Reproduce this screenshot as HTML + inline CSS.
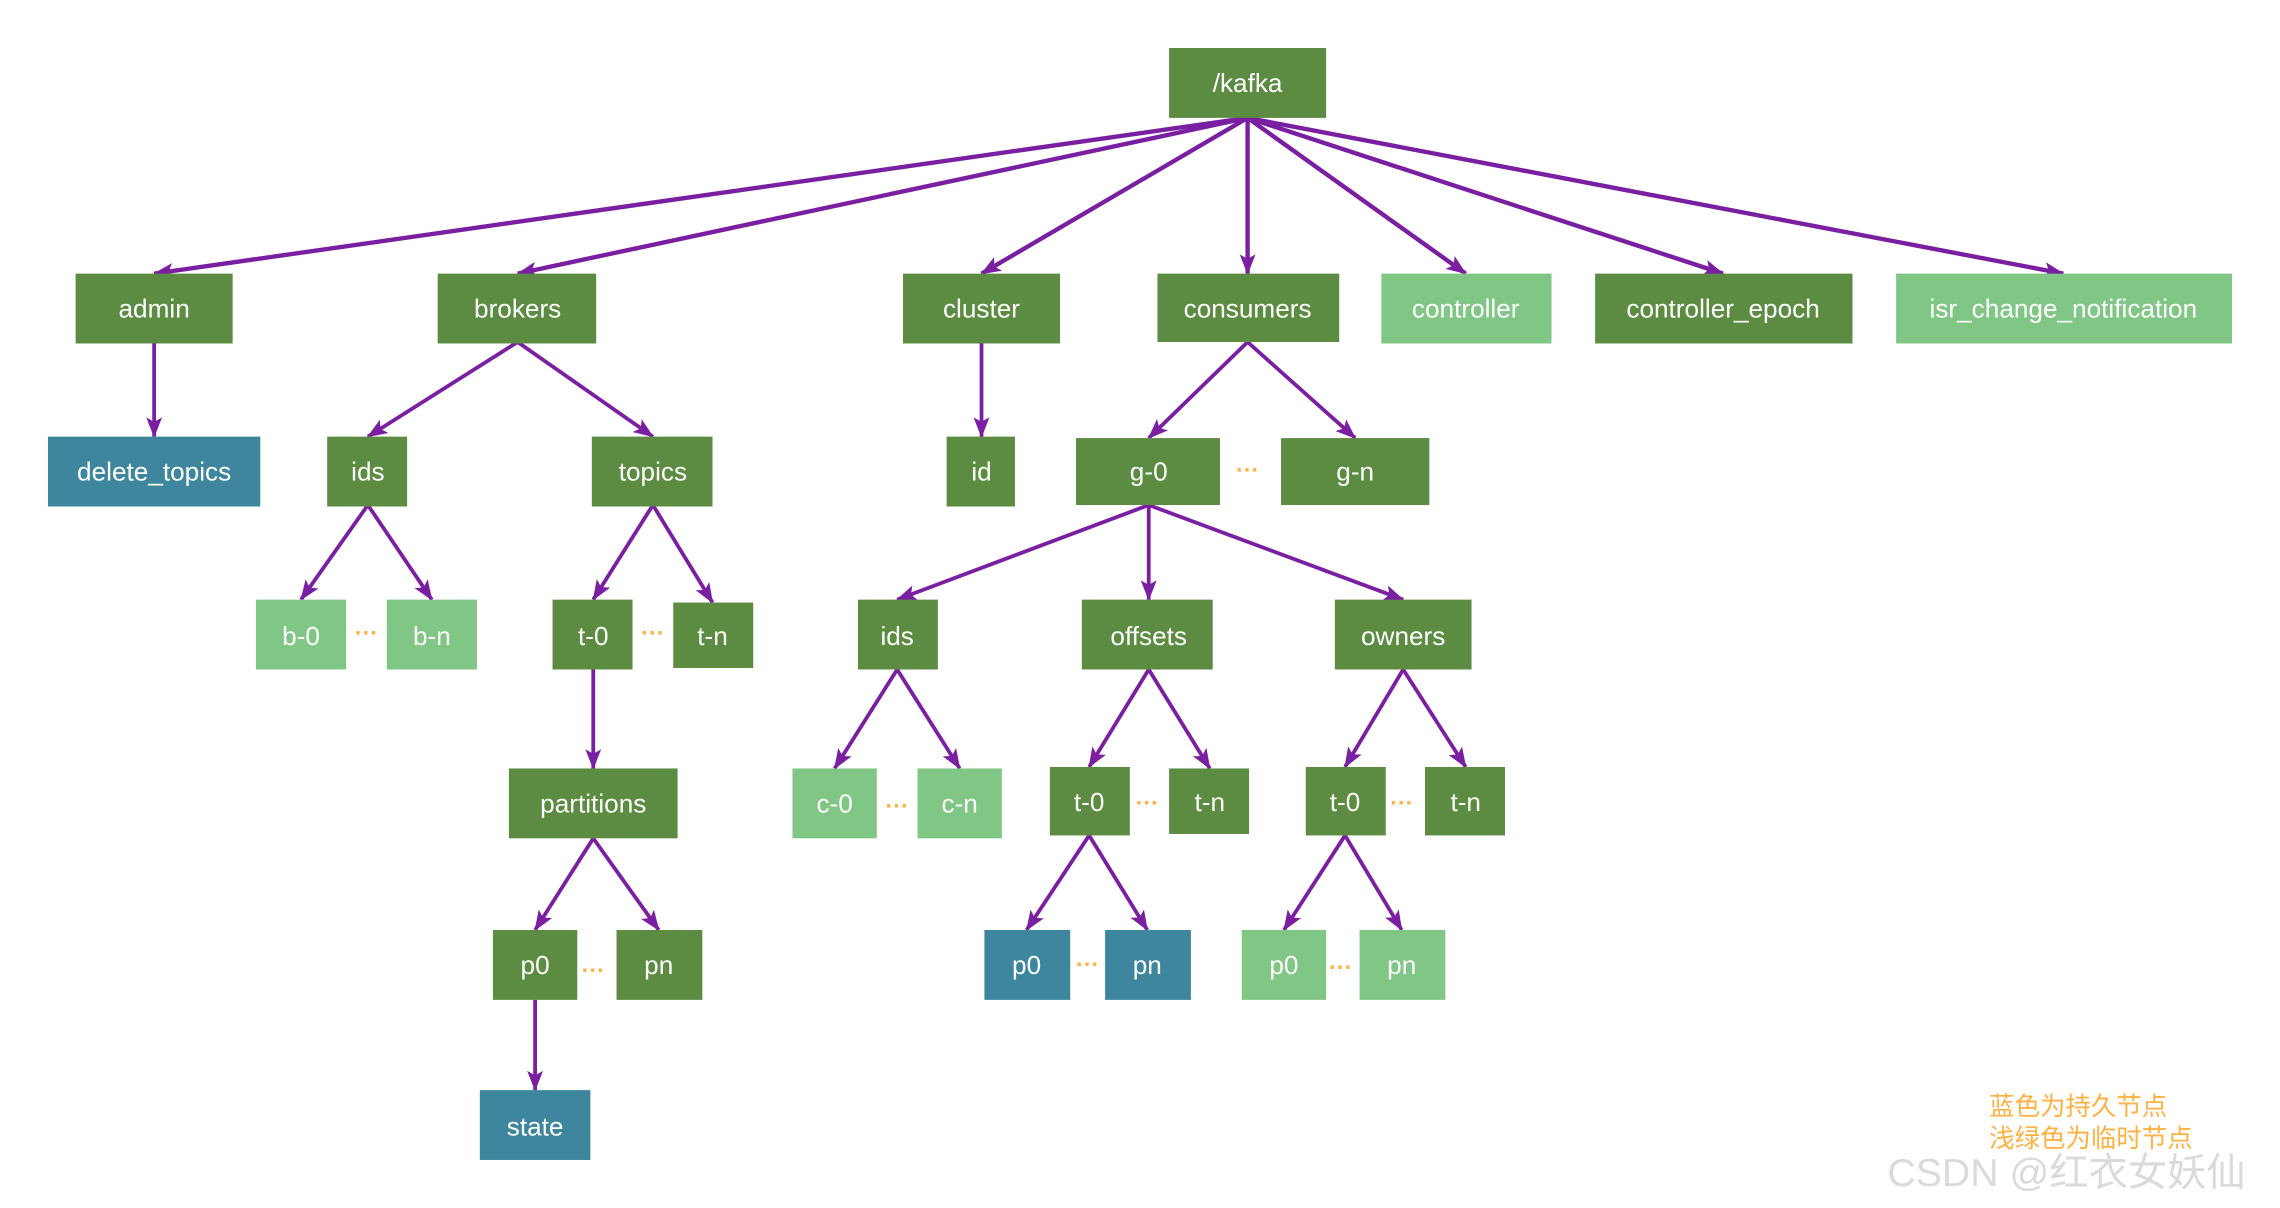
<!DOCTYPE html>
<html><head><meta charset="utf-8"><style>
html,body{margin:0;padding:0;background:#fff;width:2280px;height:1208px;overflow:hidden}
svg{display:block}
text{font-family:"Liberation Sans","Noto Sans CJK SC",sans-serif}
.n text{fill:#fff;font-size:18px;text-anchor:middle;dominant-baseline:central}
.d{fill:#5b8c42}.l{fill:#80c684}.b{fill:#3d869e}
.e line{stroke:#7b1fa2;stroke-width:2.6;marker-end:url(#a)}
.dots{fill:#ffb142;font-size:16px;font-weight:bold;text-anchor:middle}
</style></head><body>
<svg width="2280" height="1208" viewBox="0 0 1568 830" preserveAspectRatio="none" xmlns="http://www.w3.org/2000/svg">
<defs><marker id="a" markerUnits="userSpaceOnUse" markerWidth="16" markerHeight="18" refX="8" refY="17" orient="auto-start-reverse" viewBox="0 0 16 18"><path d="M0,0 L8,17 L16,0 L8,4 Z" fill="#7b1fa2" transform="rotate(0)"/></marker>
<marker id="m" markerUnits="userSpaceOnUse" markerWidth="14" markerHeight="18" refX="17" refY="7" orient="auto" viewBox="0 0 18 14"><path d="M0,0 L18,7 L0,14 L4,7 Z" fill="#7b1fa2"/></marker></defs>
<style>.e line{marker-end:url(#m)}</style>
<g class="e">
<line x1="858" y1="81" x2="106" y2="188" style="stroke-width:3"/>
<line x1="858" y1="81" x2="356" y2="188" style="stroke-width:3"/>
<line x1="858" y1="81" x2="675" y2="188" style="stroke-width:3"/>
<line x1="858" y1="81" x2="858" y2="188" style="stroke-width:3"/>
<line x1="858" y1="81" x2="1008" y2="188" style="stroke-width:3"/>
<line x1="858" y1="81" x2="1185" y2="188" style="stroke-width:3"/>
<line x1="858" y1="81" x2="1419" y2="188" style="stroke-width:3"/>
<line x1="106" y1="235" x2="106" y2="300"/>
<line x1="356" y1="235" x2="253" y2="300"/>
<line x1="356" y1="235" x2="449" y2="300"/>
<line x1="675" y1="235" x2="675" y2="300"/>
<line x1="858" y1="235" x2="790" y2="301"/>
<line x1="858" y1="235" x2="932" y2="301"/>
<line x1="253" y1="347" x2="207" y2="412"/>
<line x1="253" y1="347" x2="297" y2="412"/>
<line x1="449" y1="347" x2="408" y2="412"/>
<line x1="449" y1="347" x2="490" y2="414"/>
<line x1="790" y1="347" x2="617" y2="412"/>
<line x1="790" y1="347" x2="790" y2="412"/>
<line x1="790" y1="347" x2="965" y2="412"/>
<line x1="408" y1="460" x2="408" y2="528"/>
<line x1="617" y1="460" x2="574" y2="528"/>
<line x1="617" y1="460" x2="660" y2="528"/>
<line x1="790" y1="460" x2="749" y2="527"/>
<line x1="790" y1="460" x2="832" y2="528"/>
<line x1="965" y1="460" x2="925" y2="527"/>
<line x1="965" y1="460" x2="1008" y2="527"/>
<line x1="408" y1="576" x2="368" y2="639"/>
<line x1="408" y1="576" x2="453" y2="639"/>
<line x1="368" y1="687" x2="368" y2="749"/>
<line x1="749" y1="574" x2="706" y2="639"/>
<line x1="749" y1="574" x2="789" y2="639"/>
<line x1="925" y1="574" x2="883" y2="639"/>
<line x1="925" y1="574" x2="964" y2="639"/>
</g>
<g class="n">
<rect class="d" x="804" y="33" width="108" height="48"/><text x="858" y="57">/kafka</text>
<rect class="d" x="52" y="188" width="108" height="48"/><text x="106" y="212">admin</text>
<rect class="d" x="301" y="188" width="109" height="48"/><text x="356" y="212">brokers</text>
<rect class="d" x="621" y="188" width="108" height="48"/><text x="675" y="212">cluster</text>
<rect class="d" x="796" y="188" width="125" height="47"/><text x="858" y="212">consumers</text>
<rect class="l" x="950" y="188" width="117" height="48"/><text x="1008" y="212">controller</text>
<rect class="d" x="1097" y="188" width="177" height="48"/><text x="1185" y="212">controller_epoch</text>
<rect class="l" x="1304" y="188" width="231" height="48"/><text x="1419" y="212">isr_change_notification</text>
<rect class="b" x="33" y="300" width="146" height="48"/><text x="106" y="324">delete_topics</text>
<rect class="d" x="225" y="300" width="55" height="48"/><text x="253" y="324">ids</text>
<rect class="d" x="407" y="300" width="83" height="48"/><text x="449" y="324">topics</text>
<rect class="d" x="651" y="300" width="47" height="48"/><text x="675" y="324">id</text>
<rect class="d" x="740" y="301" width="99" height="46"/><text x="790" y="324">g-0</text>
<rect class="d" x="881" y="301" width="102" height="46"/><text x="932" y="324">g-n</text>
<rect class="l" x="176" y="412" width="62" height="48"/><text x="207" y="437">b-0</text>
<rect class="l" x="266" y="412" width="62" height="48"/><text x="297" y="437">b-n</text>
<rect class="d" x="380" y="412" width="55" height="48"/><text x="408" y="437">t-0</text>
<rect class="d" x="463" y="414" width="55" height="45"/><text x="490" y="437">t-n</text>
<rect class="d" x="590" y="412" width="55" height="48"/><text x="617" y="437">ids</text>
<rect class="d" x="744" y="412" width="90" height="48"/><text x="790" y="437">offsets</text>
<rect class="d" x="918" y="412" width="94" height="48"/><text x="965" y="437">owners</text>
<rect class="d" x="350" y="528" width="116" height="48"/><text x="408" y="552">partitions</text>
<rect class="l" x="545" y="528" width="58" height="48"/><text x="574" y="552">c-0</text>
<rect class="l" x="631" y="528" width="58" height="48"/><text x="660" y="552">c-n</text>
<rect class="d" x="722" y="527" width="55" height="47"/><text x="749" y="551">t-0</text>
<rect class="d" x="804" y="528" width="55" height="45"/><text x="832" y="551">t-n</text>
<rect class="d" x="898" y="527" width="55" height="47"/><text x="925" y="551">t-0</text>
<rect class="d" x="980" y="527" width="55" height="47"/><text x="1008" y="551">t-n</text>
<rect class="d" x="339" y="639" width="58" height="48"/><text x="368" y="663">p0</text>
<rect class="d" x="424" y="639" width="59" height="48"/><text x="453" y="663">pn</text>
<rect class="b" x="677" y="639" width="59" height="48"/><text x="706" y="663">p0</text>
<rect class="b" x="760" y="639" width="59" height="48"/><text x="789" y="663">pn</text>
<rect class="l" x="854" y="639" width="58" height="48"/><text x="883" y="663">p0</text>
<rect class="l" x="935" y="639" width="59" height="48"/><text x="964" y="663">pn</text>
<rect class="b" x="330" y="749" width="76" height="48"/><text x="368" y="774">state</text>
</g>
<g class="dots">
<text x="252" y="440">···</text><text x="449" y="440">···</text><text x="858" y="328">···</text>
<text x="617" y="559">···</text><text x="789" y="557">···</text><text x="964" y="557">···</text>
<text x="408" y="672">···</text><text x="748" y="668">···</text><text x="922" y="670">···</text>
</g>
<text x="1368" y="766" font-size="17.5" fill="#ffb142">蓝色为持久节点</text>
<text x="1368" y="788" font-size="17.5" fill="#ffb142">浅绿色为临时节点</text>
<text x="1298" y="815" font-size="27" fill="#d4d4d4" opacity="0.85">CSDN @红衣女妖仙</text>
</svg>
</body></html>
